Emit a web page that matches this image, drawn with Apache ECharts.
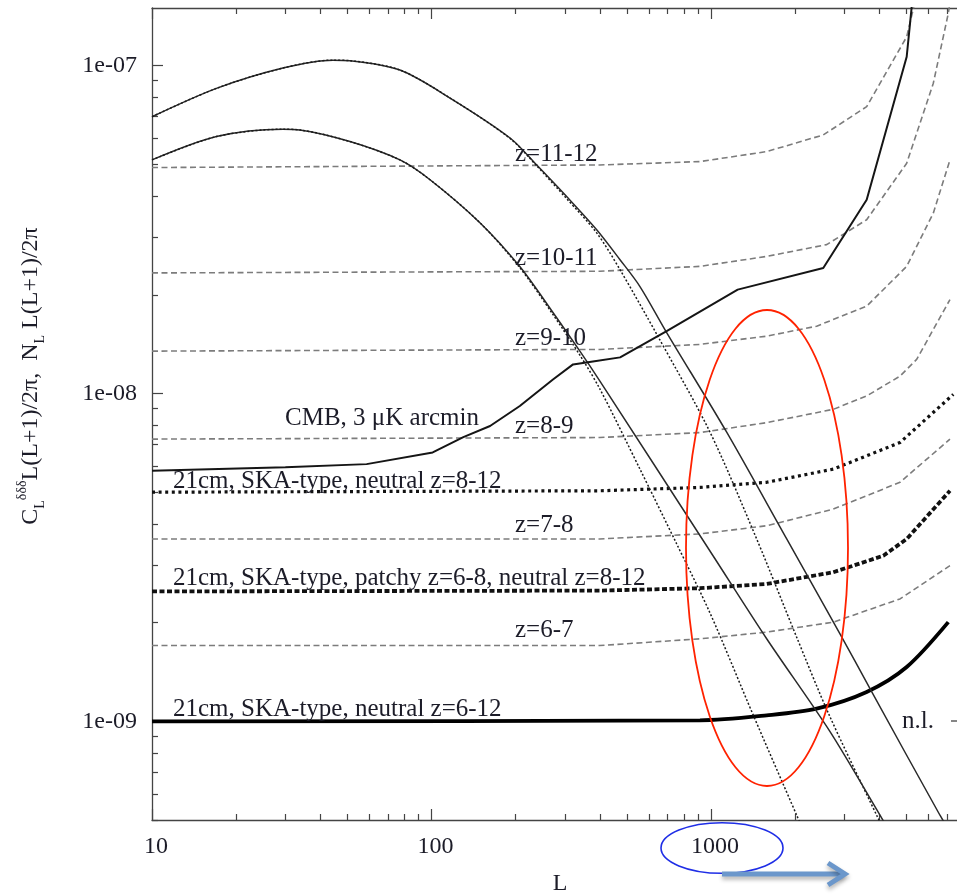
<!DOCTYPE html>
<html>
<head>
<meta charset="utf-8">
<script src="https://cdn.jsdelivr.net/npm/echarts@6/dist/echarts.min.js"></script>
<style>html,body{margin:0;padding:0;background:#fff}#c{width:957px;height:896px}</style>
</head>
<body>
<div id="c"></div>
<script>
// ---- tick values and labels ----
const xMajorTicks = [10, 100, 1000];
const xTickLabels = ['10', '100', '1000'];
const xMinorTicks = [20, 30, 40, 50, 60, 70, 80, 90, 200, 300, 400, 500, 600, 700, 800, 900, 2000, 3000, 4000, 5000, 6000, 7000];
const yMajorTicks = [1e-9, 1e-8, 1e-7];
const yTickLabels = ['1e-09', '1e-08', '1e-07'];
const yMinorTicks = [5e-10, 6e-10, 7e-10, 8e-10, 9e-10, 2e-9, 3e-9, 4e-9, 5e-9, 6e-9, 7e-9, 8e-9, 9e-9, 2e-8, 3e-8, 4e-8, 5e-8, 6e-8, 7e-8, 8e-8, 9e-8];

// ---- series data: [L, value] ----
const z11_12 = [[10, 4.89e-8], [400, 4.98e-8], [913, 5.10e-8], [1582, 5.47e-8], [2522, 6.15e-8], [3606, 7.50e-8], [5014, 1.225e-7], [5400, 1.6e-7]];
const z10_11 = [[10, 2.333e-8], [400, 2.36e-8], [913, 2.443e-8], [1582, 2.62e-8], [2594, 2.846e-8], [3606, 3.39e-8], [5014, 5.04e-8], [6243, 8.84e-8], [7063, 1.444e-7], [7200, 1.6e-7]];
const z9_10 = [[10, 1.347e-8], [400, 1.363e-8], [913, 1.412e-8], [1582, 1.496e-8], [2388, 1.605e-8], [3606, 1.847e-8], [5014, 2.443e-8], [6243, 3.55e-8], [7161, 5.16e-8]];
const z8_9 = [[10, 7.26e-9], [400, 7.34e-9], [913, 7.60e-9], [1582, 8.15e-9], [2739, 8.95e-9], [3606, 9.83e-9], [4746, 1.130e-8], [5444, 1.271e-8], [6243, 1.568e-8], [7161, 1.935e-8]];
const z7_8 = [[10, 3.60e-9], [400, 3.60e-9], [913, 3.73e-9], [1582, 3.95e-9], [2739, 4.44e-9], [4746, 5.36e-9], [7161, 7.26e-9]];
const z6_7 = [[10, 1.703e-9], [400, 1.703e-9], [913, 1.785e-9], [1582, 1.871e-9], [2739, 2.007e-9], [4746, 2.363e-9], [7161, 2.985e-9]];
const neutral8_12 = [[10, 5.0e-9], [400, 5.05e-9], [913, 5.17e-9], [1582, 5.36e-9], [2739, 5.88e-9], [4746, 7.09e-9], [7362, 9.94e-9]];
const patchy6_8 = [[10, 2.49e-9], [400, 2.505e-9], [913, 2.547e-9], [1582, 2.625e-9], [2739, 2.85e-9], [4136, 3.20e-9], [5014, 3.60e-9], [7161, 5.05e-9]];
const neutral6_12 = [[10, 1.0e-9], [913, 1.007e-9], [1582, 1.043e-9], [2388, 1.093e-9], [3606, 1.229e-9], [5014, 1.464e-9], [7063, 2.007e-9]];
const cmbNoise = [[10, 5.81e-9], [30, 5.96e-9], [58.6, 6.09e-9], [101, 6.61e-9], [130, 7.36e-9], [162, 7.96e-9], [207, 9.16e-9], [272, 1.104e-8], [321, 1.227e-8], [378, 1.253e-8], [473, 1.289e-8], [694, 1.55e-8], [1246, 2.075e-8], [2522, 2.416e-8], [3606, 3.90e-8], [5014, 1.065e-7], [5260, 1.6e-7]];
const signalA = [[10, 6.99e-8], [17, 8.53e-8], [29.4, 9.84e-8], [44.4, 1.04e-7], [51.1, 1.036e-7], [77.1, 9.70e-8], [116.5, 7.97e-8], [191, 6.02e-8], [238, 4.98e-8], [304.5, 3.99e-8], [390, 3.16e-8], [472.6, 2.56e-8], [557, 2.12e-8], [694, 1.535e-8], [1138, 7.62e-9], [1866, 3.60e-9], [2894, 1.849e-9], [3706, 1.258e-9], [6596, 5.17e-10], [7300, 4.5e-10]];
const signalAlin = [[10, 6.99e-8], [17, 8.53e-8], [29.4, 9.84e-8], [44.4, 1.04e-7], [51.1, 1.036e-7], [77.1, 9.70e-8], [116.5, 7.97e-8], [191, 6.0e-8], [238, 4.95e-8], [304.5, 3.93e-8], [390, 3.09e-8], [472.6, 2.387e-8], [646, 1.493e-8], [992, 7.62e-9], [1457, 3.60e-9], [2014, 1.827e-9], [2644, 1.048e-9], [3915, 5.17e-10], [4300, 4.4e-10]];
const signalB = [[10, 5.16e-8], [17, 6.08e-8], [29.4, 6.40e-8], [33.8, 6.37e-8], [51.1, 5.87e-8], [77.1, 5.16e-8], [98.8, 4.49e-8], [149, 3.32e-8], [207, 2.44e-8], [272, 1.767e-8], [340, 1.344e-8], [401, 1.089e-8], [1017, 3.20e-9], [1582, 1.786e-9], [2666, 9.30e-10], [4024, 5.17e-10], [4500, 4.4e-10]];
const signalBlin = [[10, 5.16e-8], [17, 6.08e-8], [29.4, 6.40e-8], [33.8, 6.37e-8], [51.1, 5.87e-8], [77.1, 5.16e-8], [98.8, 4.49e-8], [149, 3.32e-8], [207, 2.42e-8], [272, 1.742e-8], [340, 1.307e-8], [401, 1.03e-8], [557, 5.88e-9], [754, 3.475e-9], [992, 2.14e-9], [1414, 1.048e-9], [2026, 5.17e-10], [2200, 4.4e-10]];

// ---- annotation texts ----
const notes = [
  {text: 'CMB, 3 \u03bcK arcmin', x: 285, y: 418.6},
  {text: 'z=11-12', x: 515, y: 154.6},
  {text: 'z=10-11', x: 515, y: 258.3},
  {text: 'z=9-10', x: 515, y: 338.3},
  {text: 'z=8-9', x: 515, y: 426.6},
  {text: 'z=7-8', x: 515, y: 525},
  {text: 'z=6-7', x: 515, y: 630},
  {text: '21cm, SKA-type, neutral z=8-12', x: 173, y: 481.6},
  {text: '21cm, SKA-type, patchy z=6-8, neutral z=8-12', x: 173, y: 578.3},
  {text: '21cm, SKA-type, neutral z=6-12', x: 173, y: 709.6},
  {text: 'n.l.', x: 902, y: 721.6}
];

const FONT = 'Liberation Serif';
const TXT = '#1c1c28';
const AX = '#444';
const X_MIN = 10, X_MAX = 7589;   // visible part of the L axis (picture is cropped on the right)

function fmtX(v) { const i = xMajorTicks.findIndex(t => Math.abs(t - v) / t < 1e-6); return i >= 0 ? xTickLabels[i] : ''; }
function fmtY(v) { const i = yMajorTicks.findIndex(t => Math.abs(t - v) / t < 1e-6); return i >= 0 ? yTickLabels[i] : ''; }

function xAx(pos, major, withLabel) {
  return {
    type: 'log', logBase: 10, min: X_MIN, max: X_MAX, position: pos,
    axisLine: {show: major, lineStyle: {color: AX, width: 1.3}},
    axisTick: {show: true, inside: true, length: major ? 11 : 6, customValues: major ? xMajorTicks : xMinorTicks, lineStyle: {color: AX, width: 1.2}},
    axisLabel: withLabel ? {show: true, customValues: xMajorTicks, formatter: fmtX, fontFamily: FONT, fontSize: 24, color: TXT, margin: 15, padding: [0, 0, 0, 8]} : {show: false},
    splitLine: {show: false}, minorTick: {show: false}
  };
}
function yAx(major) {
  return {
    type: 'log', logBase: 10, min: 5e-10, max: 1.5e-7, position: 'left',
    axisLine: {show: major, lineStyle: {color: AX, width: 1.3}},
    axisTick: {show: true, inside: true, length: major ? 11 : 6, customValues: major ? yMajorTicks : yMinorTicks, lineStyle: {color: AX, width: 1.2}},
    axisLabel: major ? {show: true, customValues: yMajorTicks, formatter: fmtY, fontFamily: FONT, fontSize: 24, color: TXT, margin: 15} : {show: false},
    splitLine: {show: false}, minorTick: {show: false}
  };
}

function line(data, color, width, type, smooth) {
  return {type: 'line', data: data, xAxisIndex: 0, yAxisIndex: 0, symbol: 'none', smooth: smooth || false,
    lineStyle: {color: color, width: width, type: type || 'solid', cap: 'butt'}, emphasis: {disabled: true}, z: 2};
}

const zDash = [6, 3.5];
const series = [
  line(z11_12, '#7c7c7c', 1.6, zDash),
  line(z10_11, '#7c7c7c', 1.6, zDash),
  line(z9_10, '#7c7c7c', 1.6, zDash),
  line(z8_9, '#7c7c7c', 1.6, zDash),
  line(z7_8, '#7c7c7c', 1.6, zDash),
  line(z6_7, '#7c7c7c', 1.6, zDash),
  line(neutral8_12, '#111', 3.2, [3, 3.6]),
  line(patchy6_8, '#111', 3.8, [5, 2.5]),
  line(neutral6_12, '#000', 3.8, 'solid', 0.3),
  line(signalA, '#2a2a2a', 1.5, 'solid', 0.3),
  line(signalAlin, '#1a1a1a', 1.5, [2, 2], 0.3),
  line(signalB, '#2a2a2a', 1.5, 'solid', 0.3),
  line(signalBlin, '#1a1a1a', 1.5, [2, 2], 0.3),
  line(cmbNoise, '#151515', 2, 'solid')
];

const graphics = notes.map(n => ({type: 'text', x: n.x, y: n.y, z: 10,
  style: {text: n.text, font: '25px "' + FONT + '"', fill: TXT, align: 'left', verticalAlign: 'middle'}}));
graphics.push({type: 'text', x: 560, y: 884, z: 10, style: {text: 'L', font: '24px "' + FONT + '"', fill: TXT, align: 'center', verticalAlign: 'middle'}});
graphics.push({type: 'text', x: 31, y: 376, rotation: Math.PI / 2, z: 10,
  style: {
    text: '{a|C}{sub|L}{sup|\u03b4\u03b4\u03b4}{a|L(L+1)/2\u03c0,  N}{sub|L}{a| L(L+1)/2\u03c0}',
    align: 'center', verticalAlign: 'middle', fill: TXT,
    rich: {
      a: {fontFamily: FONT, fontSize: 24, lineHeight: 32, verticalAlign: 'middle', fill: TXT},
      sub: {fontFamily: FONT, fontSize: 14, lineHeight: 14, verticalAlign: 'bottom', fill: TXT},
      sup: {fontFamily: FONT, fontSize: 14, lineHeight: 14, verticalAlign: 'top', fill: TXT}
    }
  }});
graphics.push({type: 'line', z: 10, shape: {x1: 951, y1: 721, x2: 958, y2: 721}, style: {stroke: '#444', lineWidth: 1.3}});
graphics.push({type: 'ellipse', z: 20, shape: {cx: 767, cy: 548, rx: 81, ry: 238}, style: {fill: 'none', stroke: '#ff2200', lineWidth: 1.8}});
graphics.push({type: 'ellipse', z: 20, shape: {cx: 722, cy: 848, rx: 61, ry: 25.3}, style: {fill: 'none', stroke: '#1f2ee6', lineWidth: 1.6}});
graphics.push({type: 'line', z: 20, shape: {x1: 722, y1: 874, x2: 843, y2: 874},
  style: {stroke: '#6b97cb', lineWidth: 5, shadowBlur: 4, shadowOffsetY: 3, shadowColor: 'rgba(0,0,0,0.3)'}});
graphics.push({type: 'polyline', z: 20, shape: {points: [[828, 863], [845, 874], [828, 885]]},
  style: {stroke: '#6b97cb', lineWidth: 5, fill: 'none', lineJoin: 'miter', shadowBlur: 4, shadowOffsetY: 3, shadowColor: 'rgba(0,0,0,0.3)'}});

const chart = echarts.init(document.getElementById('c'), null, {renderer: 'canvas'});
chart.setOption({
  animation: false,
  backgroundColor: '#fff',
  grid: {left: 152, top: 8, right: 0, bottom: 76, outerBoundsMode: 'none'},
  xAxis: [xAx('bottom', true, true), xAx('bottom', false, false), xAx('top', true, false), xAx('top', false, false)],
  yAxis: [yAx(true), yAx(false)],
  series: series,
  graphic: graphics
});
</script>
</body>
</html>
